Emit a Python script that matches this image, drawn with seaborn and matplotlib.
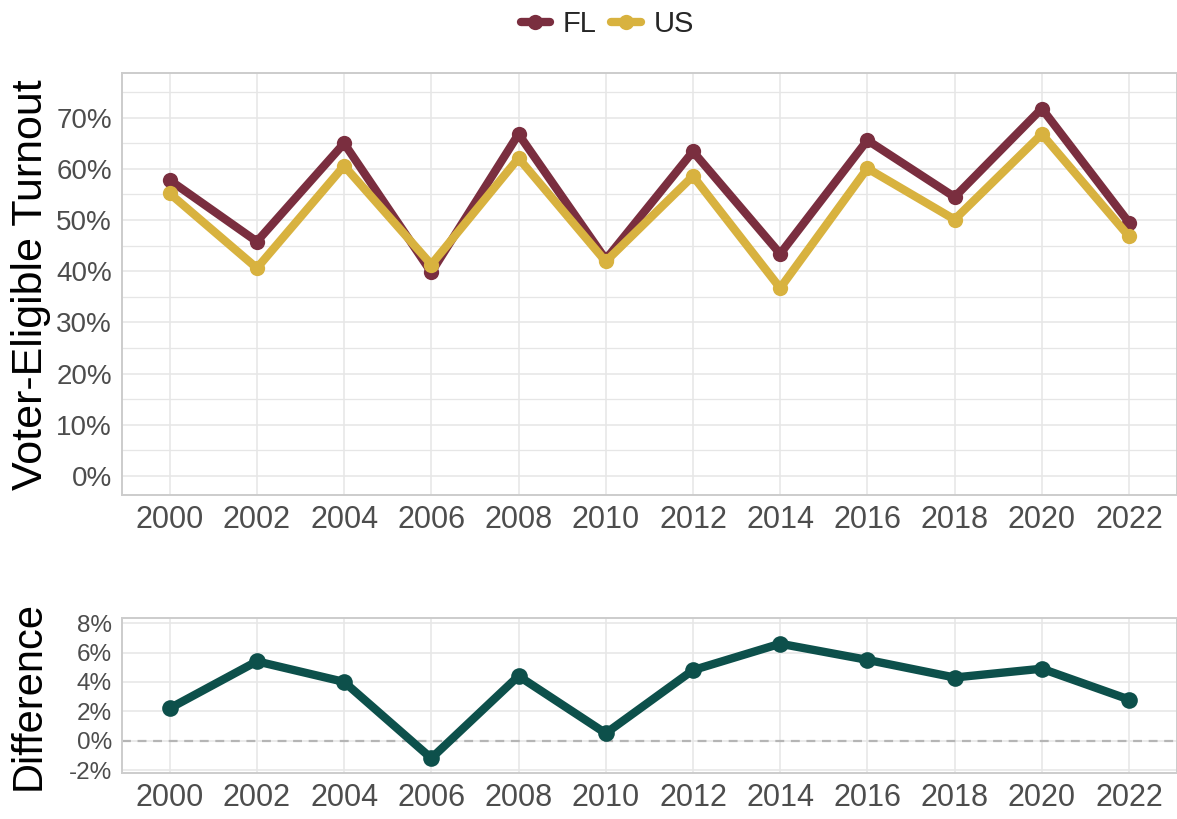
import pandas as pd
import matplotlib
matplotlib.use("Agg")
import matplotlib.pyplot as plt
from matplotlib.lines import Line2D
from matplotlib.ticker import MultipleLocator, PercentFormatter
import seaborn as sns

# Данные
years = [2000, 2002, 2004, 2006, 2008, 2010, 2012, 2014, 2016, 2018, 2020, 2022]
fl_turnout = [57.8, 45.8, 65.0, 39.8, 66.8, 42.3, 63.4, 43.4, 65.6, 54.5, 71.8, 49.5]
us_turnout = [55.2, 40.6, 60.6, 41.3, 62.1, 41.9, 58.6, 36.7, 60.1, 50.1, 66.8, 46.8]
diff_pct = [2.2, 5.4, 4.0, -1.2, 4.4, 0.5, 4.8, 6.6, 5.5, 4.3, 4.9, 2.8]
states = ["FL", "US"]

colors = {"FL": "#7a2e3f", "US": "#d8b23f"}
diff_color = "#0d504b"
grid_color = "#e6e6e6"
border_color = "#cccccc"
tick_color = "#4d4d4d"

turnout_df = pd.DataFrame({
    "year": years * 2,
    "turnout": fl_turnout + us_turnout,
    "state": ["FL"] * len(years) + ["US"] * len(years),
})
diff_df = pd.DataFrame({"year": years, "diff": diff_pct})

sns.set_theme(style="whitegrid")
plt.rcParams["font.family"] = ["Liberation Sans", "DejaVu Sans"]
plt.rcParams["axes.unicode_minus"] = False

fig = plt.figure(figsize=(11.77, 8.19), dpi=100)
ax_top = fig.add_axes([0.1034, 0.3956, 0.8966, 0.5153])
ax_bot = fig.add_axes([0.1034, 0.0562, 0.8966, 0.1892])

# 1. Явка
sns.lineplot(data=turnout_df, x="year", y="turnout", hue="state", hue_order=states,
             palette=colors, marker="o", markersize=11, markeredgewidth=0,
             linewidth=6, ax=ax_top, legend=False)
ax_top.set_ylim(-3.75, 78.75)
ax_top.yaxis.set_major_locator(MultipleLocator(10))
ax_top.yaxis.set_minor_locator(MultipleLocator(5))

# 2. Разница
ax_bot.axhline(0, color="#b5b5b5", linestyle=(0, (4, 3)), linewidth=1.6, zorder=1)
sns.lineplot(data=diff_df, x="year", y="diff", color=diff_color, marker="o",
             markersize=12, markeredgewidth=0, linewidth=6, ax=ax_bot, zorder=3)
ax_bot.set_ylim(-2.2, 8.35)
ax_bot.yaxis.set_major_locator(MultipleLocator(2))

for ax, ys in [(ax_top, 20), (ax_bot, 17.5)]:
    ax.set_xlim(1998.9, 2023.1)
    ax.set_xticks(years)
    ax.yaxis.set_major_formatter(PercentFormatter(xmax=100, decimals=0))
    ax.set_xlabel("")
    ax.set_ylabel("")
    ax.grid(which="major", color=grid_color, linewidth=1.1)
    ax.grid(which="minor", axis="y", color=grid_color, linewidth=0.9)
    ax.tick_params(which="major", length=4, width=1, color=border_color, pad=3)
    ax.tick_params(which="minor", length=0)
    ax.tick_params(axis="y", labelsize=ys, labelcolor=tick_color)
    ax.tick_params(axis="x", labelsize=22, labelcolor=tick_color)
    for sp in ax.spines.values():
        sp.set_color(border_color)
        sp.set_linewidth(1.4)

fig.text(0.026, 0.652, "Voter-Eligible Turnout", rotation=90, ha="center", va="center",
         fontsize=31, color="black")
fig.text(0.024, 0.151, "Difference", rotation=90, ha="center", va="center",
         fontsize=30, color="black")

handles = [Line2D([], [], color=colors[s], lw=6, marker="o", markersize=11,
                  markeredgewidth=0) for s in states]
fig.legend(handles, states, loc="upper center", bbox_to_anchor=(0.516, 1.02), ncol=2,
           frameon=False, fontsize=21, handlelength=1.0, handletextpad=0.45,
           columnspacing=0.5)

plt.savefig("out.png", dpi=100)
plt.close()
